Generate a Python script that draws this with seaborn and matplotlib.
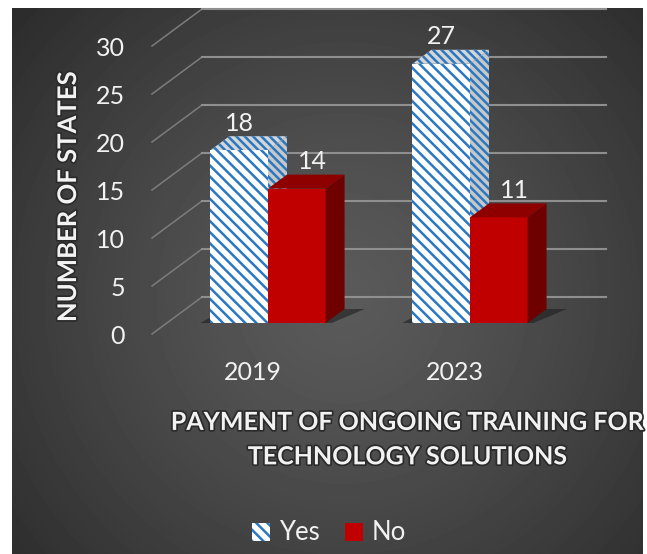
import numpy as np
import pandas as pd
import matplotlib
matplotlib.use('Agg')
import matplotlib.pyplot as plt
import matplotlib.patheffects as pe
from matplotlib.patches import Polygon
from matplotlib.transforms import ScaledTranslation
import seaborn as sns

plt.rcParams['font.family'] = ['Lato', 'DejaVu Sans']
plt.rcParams['hatch.linewidth'] = 1.8

# data
years = ['2019', '2023']
answers = ['Yes', 'No']
yes_counts = [18, 27]
no_counts = [14, 11]
y_ticks = [0, 5, 10, 15, 20, 25, 30]

df = pd.DataFrame({
    'Year': years * 2,
    'Answer': ['Yes'] * len(years) + ['No'] * len(years),
    'States': yes_counts + no_counts,
})

blue = '#2a78c2'
red = '#c00000'
red_top = '#8e0000'
red_side = '#6e0000'
txt = '#f2f2f2'

W, H = 647, 554
fig = plt.figure(figsize=(W / 100, H / 100), dpi=100)
fig.patch.set_facecolor('white')

# dark radial background panel
bg = fig.add_axes([12 / W, 0, (643 - 12) / W, (H - 8) / H])
gx, gy = np.meshgrid(np.arange(631), np.arange(546))
r = np.hypot(gx - 330, gy - 290) / 440
shade = 0x5a - (0x5a - 0x2b) * np.clip(r, 0, 1) ** 1.3
bg.imshow(shade, cmap='gray', vmin=0, vmax=255, aspect='auto', interpolation='bilinear')
bg.axis('off')

# front plane axes of the bars
ax = fig.add_axes([167 / W, 1 - 323 / H, 404 / W, 288 / H])
ax.patch.set_alpha(0)
sns.barplot(data=df, x='Year', y='States', hue='Answer', hue_order=answers,
            palette=['white', red], width=0.57, gap=0, saturation=1,
            errorbar=None, legend=False, ax=ax)
ax.set_xlim(-0.5, 1.5)
ax.set_ylim(0, 30)
for s in ax.spines.values():
    s.set_visible(False)

px_x = 404 / 2.0   # pixels per x unit
px_y = 288 / 30.0  # pixels per y unit
ddx, ddy = 19 / px_x, 14 / px_y      # bar depth
wdx, wdy = -15 / px_x, -11 / px_y    # side wall front edge
bdx, bdy = 35 / px_x, 26 / px_y      # back wall

# walls / gridlines
for v in y_ticks:
    ax.plot([-0.5 + wdx, -0.5 + bdx], [v + wdy, v + bdy], color='#7c7c7c',
            lw=1.1, clip_on=False, zorder=0.5)
    ax.plot([-0.5 + bdx, 1.5 + bdx], [v + bdy, v + bdy], color='#8f8f8f',
            lw=1.5, clip_on=False, zorder=0.5)

yes_bars, no_bars = ax.containers[0], ax.containers[1]

# shadows under each group
for a, b in zip(yes_bars, no_bars):
    x0 = a.get_x()
    x1 = b.get_x() + b.get_width()
    ax.add_patch(Polygon([(x0 - 0.05, 0), (x1 + 0.03, 0), (x1 + ddx + 0.1, ddy),
                          (x0 + ddx - 0.02, ddy)], closed=True,
                         facecolor='#1a1a1a', alpha=0.55, lw=0, zorder=1))

for bars, front, top_c, side_c, z in [(yes_bars, 'white', '#d6d6d6', '#c8c8c8', 2),
                                      (no_bars, red, red_top, red_side, 4)]:
    for p in bars:
        x0, w, h = p.get_x(), p.get_width(), p.get_height()
        side = Polygon([(x0 + w, 0), (x0 + w + ddx, ddy), (x0 + w + ddx, h + ddy), (x0 + w, h)],
                       closed=True, facecolor=side_c, lw=0, zorder=z, clip_on=False)
        top = Polygon([(x0, h), (x0 + ddx, h + ddy), (x0 + w + ddx, h + ddy), (x0 + w, h)],
                      closed=True, facecolor=top_c, lw=0, zorder=z, clip_on=False)
        if bars is yes_bars:
            side.set_hatch('\\\\\\\\')
            side.set_edgecolor(blue)
            top.set_hatch('\\\\\\\\')
            top.set_edgecolor(blue)
            p.set_hatch('\\\\\\')
            p.set_edgecolor(blue)
            p.set_zorder(z + 1)
        else:
            p.set_edgecolor(front)
            p.set_zorder(z)
        p.set_linewidth(0)
        ax.add_patch(side)
        ax.add_patch(top)

# value labels
for bars, dx in [(yes_bars, 0), (no_bars, 11)]:
    for p in bars:
        ax.annotate(f'{p.get_height():.0f}', (p.get_x() + p.get_width() / 2, p.get_height()),
                    xytext=(dx, 19.5), textcoords='offset points', ha='center', va='center',
                    fontsize=18, color=txt, zorder=6, annotation_clip=False)

# ticks, shifted to the front edge of the side wall
ax.set_yticks(y_ticks)
ax.tick_params(axis='both', length=0, labelsize=18, labelcolor=txt)
ax.tick_params(axis='y', pad=19.5)
ax.tick_params(axis='x', pad=19.5)
shift = ScaledTranslation(-0.15, -0.11, fig.dpi_scale_trans)
for lab in ax.get_yticklabels() + ax.get_xticklabels():
    lab.set_transform(lab.get_transform() + shift)

halo = [pe.withStroke(linewidth=2.5, foreground='#2b2b2b')]
ax.set_ylabel('NUMBER OF STATES', fontsize=18.5, fontweight='bold', color=txt,
              va='center', path_effects=halo)
ax.yaxis.set_label_coords(-0.245, 0.441)
ax.set_xlabel('PAYMENT OF ONGOING TRAINING FOR\nTECHNOLOGY SOLUTIONS', fontsize=18,
              fontweight='bold', color=txt, va='center', linespacing=1.6, path_effects=halo)
ax.xaxis.set_label_coords(0.595, -0.405)

ax.legend(handles=[yes_bars[0], no_bars[0]], labels=answers, loc='center',
          bbox_to_anchor=(329 / W, 1 - 533 / H), bbox_transform=fig.transFigure,
          ncol=2, frameon=False, fontsize=18.5, labelcolor=txt, handlelength=0.7,
          handleheight=0.7, handletextpad=0.35, columnspacing=1.0)

fig.savefig('out.png', dpi=100, facecolor=fig.get_facecolor())
